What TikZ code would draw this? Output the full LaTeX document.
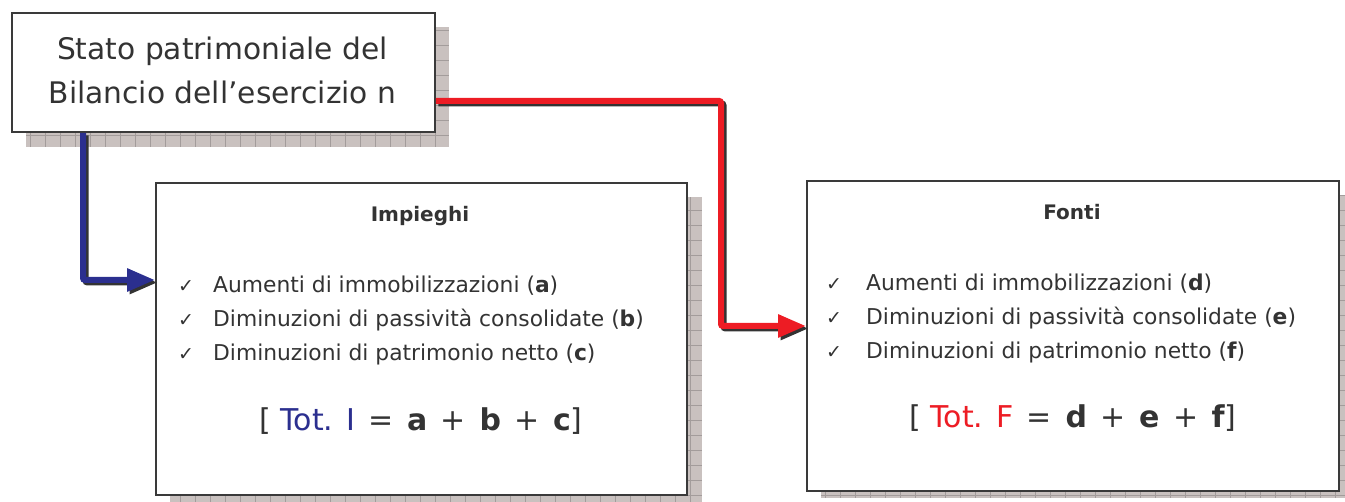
\documentclass[tikz,border=0pt]{standalone}
\usepackage{fontspec}
\setmainfont{DejaVu Sans}
\newfontfamily\symfont{DejaVu Sans}
\usetikzlibrary{arrows.meta,calc}
\definecolor{ink}{HTML}{333333}
\definecolor{shadowc}{HTML}{C9C1BF}
\definecolor{gridc}{HTML}{A39C9B}
\definecolor{navy}{HTML}{2B2F8F}
\definecolor{flame}{HTML}{ED1C24}
\definecolor{edgec}{HTML}{3A3A3A}
\tikzset{
  panel/.style={draw=edgec, line width=1.8pt, fill=white, anchor=north west, inner sep=0pt},
  itemtext/.style={anchor=base west, text=ink, font=\fontsize{21.8}{24}\selectfont, inner sep=0pt},
  tick/.style={anchor=base, text=ink, font=\symfont\fontsize{19}{20}\selectfont, inner sep=0pt},
  heading/.style={anchor=base, text=ink, font=\bfseries\fontsize{20}{22}\selectfont, inner sep=0pt},
  total/.style={anchor=base, text=ink, font=\fontsize{30}{32}\selectfont, inner sep=0pt},
  flow/.style={line width=6pt, rounded corners=2pt, -{Triangle[length=28pt,width=22pt]}},
  flowshade/.style={flow, draw=black!80, transform canvas={xshift=2.5pt, yshift=-2.5pt}},
}
\newcommand{\gridshadow}[4]{%
  \begin{scope}
    \clip (#1,#2) rectangle (#3,#4);
    \fill[shadowc] (#1,#2) rectangle (#3,#4);
    \draw[gridc, line width=0.5pt, step=15pt] (#1,#2) grid (#3,#4);
  \end{scope}}
\newcommand{\gap}{\hspace{0.45em}}
\begin{document}
\begin{tikzpicture}[x=1pt,y=-1pt]
\useasboundingbox (0,0) rectangle (1345,502);

% drop shadows
\gridshadow{26}{27}{449}{147}
\gridshadow{170}{197}{702}{502}
\gridshadow{821}{195}{1345}{498}

% top box
\node[panel, minimum width=423pt, minimum height=119pt] (stato) at (11,12) {};
\node[text=ink, font=\fontsize{29.7}{44}\selectfont, align=center, inner sep=0pt] (statotxt) at (222.5,70)
  {Stato patrimoniale del\\Bilancio dell’esercizio n};

% panels
\node[panel, minimum width=531pt, minimum height=312pt] (imp) at (155,182) {};
\node[panel, minimum width=532pt, minimum height=310pt] (fon) at (806,180) {};

% Impieghi contents
\node[heading] (imph) at (420,222) {Impieghi};
\node[tick] (impc1) at (186,293) {✓};
\node[tick] (impc2) at (186,327) {✓};
\node[tick] (impc3) at (186,361) {✓};
\node[itemtext] (impi1) at (213,293) {Aumenti di immobilizzazioni (\textbf{a})};
\node[itemtext] (impi2) at (213,327) {Diminuzioni di passività consolidate (\textbf{b})};
\node[itemtext] (impi3) at (213,361) {Diminuzioni di patrimonio netto (\textbf{c})};
\node[total] (impt) at (421,431) {[ \textcolor{navy}{Tot. I}\gap=\gap\textbf{a}\gap+\gap\textbf{b}\gap+\gap\textbf{c}]};

% Fonti contents
\node[heading] (fonh) at (1072,220) {Fonti};
\node[tick] (fonc1) at (834,291) {✓};
\node[tick] (fonc2) at (834,325) {✓};
\node[tick] (fonc3) at (834,359) {✓};
\node[itemtext] (foni1) at (866,291) {Aumenti di immobilizzazioni (\textbf{d})};
\node[itemtext] (foni2) at (866,325) {Diminuzioni di passività consolidate (\textbf{e})};
\node[itemtext] (foni3) at (866,359) {Diminuzioni di patrimonio netto (\textbf{f})};
\node[total] (font) at (1073,428) {[ \textcolor{flame}{Tot. F}\gap=\gap\textbf{d}\gap+\gap\textbf{e}\gap+\gap\textbf{f}]};

% connector anchors
\coordinate (bstart) at ($(stato.south west)+(72,0)$);
\coordinate (bend) at ([yshift=-98pt]imp.north west);
\coordinate (rstart) at ([yshift=-28.5pt]stato.east);
\coordinate (rturn) at (721,100);
\coordinate (rend) at ([yshift=-146pt]fon.north west);

% connectors with offset shade
\draw[flowshade] (bstart) |- (bend);
\draw[flow, draw=navy] (bstart) |- (bend);
\draw[flowshade] (rstart) -- (rstart -| rturn) -- (rturn |- rend) -- (rend);
\draw[flow, draw=flame] (rstart) -- (rstart -| rturn) -- (rturn |- rend) -- (rend);
\end{tikzpicture}
\end{document}
